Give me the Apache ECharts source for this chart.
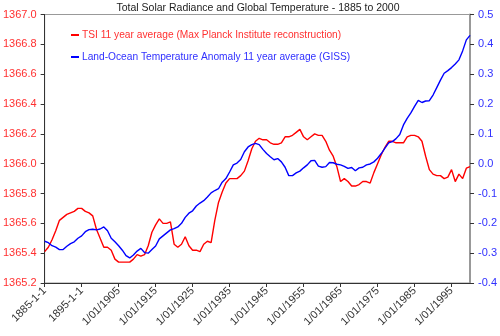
<!DOCTYPE html>
<html><head><meta charset="utf-8">
<script src="https://cdn.jsdelivr.net/npm/echarts@6/dist/echarts.min.js"></script>
<style>html,body{margin:0;padding:0;background:#fff}#c{width:500px;height:336px}</style>
</head><body><div id="c"></div>
<script>
const title = 'Total Solar Radiance and Global Temperature - 1885 to 2000';
const tsiName = 'TSI 11 year average (Max Planck Institute reconstruction)';
const tempName = 'Land-Ocean Temperature Anomaly 11 year average (GISS)';
const startYear = 1885, endYear = 2000;
const years = [];
for (let y = startYear; y <= endYear; y++) years.push(String(y));
const tickLabels = {'1885':'1885-1-1','1895':'1895-1-1','1905':'1/01/1905','1915':'1/01/1915','1925':'1/01/1925','1935':'1/01/1935','1945':'1/01/1945','1955':'1/01/1955','1965':'1/01/1965','1975':'1/01/1975','1985':'1/01/1985','1995':'1/01/1995'};
const tsi = [
1365.41,1365.44,1365.49,1365.55,1365.62,1365.64,1365.66,1365.67,1365.68,1365.70,
1365.70,1365.68,1365.67,1365.65,1365.56,1365.50,1365.44,1365.44,1365.42,1365.36,
1365.34,1365.34,1365.34,1365.34,1365.36,1365.39,1365.38,1365.39,1365.45,1365.54,
1365.59,1365.63,1365.60,1365.60,1365.61,1365.46,1365.44,1365.46,1365.51,1365.45,
1365.42,1365.42,1365.41,1365.46,1365.48,1365.47,1365.62,1365.74,1365.81,1365.87,
1365.90,1365.90,1365.90,1365.92,1365.95,1366.02,1366.10,1366.15,1366.17,1366.16,
1366.16,1366.14,1366.13,1366.13,1366.14,1366.18,1366.18,1366.19,1366.21,1366.23,
1366.18,1366.16,1366.18,1366.20,1366.19,1366.19,1366.15,1366.09,1366.05,1365.98,
1365.88,1365.90,1365.88,1365.85,1365.85,1365.86,1365.88,1365.88,1365.87,1365.94,
1366.00,1366.06,1366.11,1366.15,1366.15,1366.14,1366.14,1366.14,1366.18,1366.19,
1366.19,1366.18,1366.15,1366.05,1365.96,1365.93,1365.92,1365.92,1365.90,1365.91,
1365.96,1365.88,1365.93,1365.90,1365.97,1365.98];
const temp = [
-0.260,-0.265,-0.275,-0.280,-0.288,-0.288,-0.277,-0.268,-0.262,-0.250,
-0.242,-0.228,-0.221,-0.220,-0.222,-0.219,-0.212,-0.225,-0.250,-0.262,
-0.275,-0.290,-0.308,-0.316,-0.306,-0.293,-0.284,-0.298,-0.300,-0.288,
-0.276,-0.252,-0.242,-0.232,-0.222,-0.218,-0.212,-0.200,-0.180,-0.166,
-0.158,-0.142,-0.132,-0.124,-0.112,-0.098,-0.090,-0.084,-0.062,-0.050,
-0.028,-0.004,0.002,0.014,0.040,0.056,0.064,0.068,0.064,0.048,
0.034,0.023,0.013,0.017,0.006,-0.012,-0.040,-0.040,-0.031,-0.025,
-0.014,-0.004,0.010,0.011,-0.008,-0.012,-0.010,0.004,0.003,-0.002,
-0.004,-0.009,-0.016,-0.013,-0.024,-0.014,-0.012,-0.004,-0.001,0.006,
0.018,0.034,0.052,0.070,0.074,0.084,0.098,0.130,0.152,0.170,
0.192,0.212,0.205,0.210,0.211,0.230,0.255,0.280,0.303,0.312,
0.322,0.334,0.348,0.378,0.415,0.430];

const font = 'Liberation Sans, Arial, sans-serif';
const chart = echarts.init(document.getElementById('c'), null, {renderer:'canvas'});
chart.setOption({
  animation:false,
  textStyle:{fontFamily:font},
  title:{text:title,left:253,textAlign:'center',top:-2,textStyle:{fontSize:10.5,fontWeight:'normal',color:'#222',fontFamily:font}},
  legend:{orient:'vertical',left:66,top:25,itemGap:12,itemWidth:8,itemHeight:2,icon:'rect',
    textStyle:{fontSize:10.2,fontFamily:font,padding:[0,0,0,-2]},
    data:[{name:tsiName,textStyle:{color:'#ff3030'}},{name:tempName,textStyle:{color:'#3030ff'}}]},
  grid:{left:43.7,right:29.3,top:14.5,bottom:53,show:true,borderColor:'#999',borderWidth:1,containLabel:false},
  xAxis:{type:'category',data:years,boundaryGap:false,
    axisLine:{onZero:false,lineStyle:{color:'#333',width:1}},
    axisTick:{interval:(i)=>i%10===0,length:4,lineStyle:{color:'#333'}},
    axisLabel:{interval:(i)=>i%10===0,rotate:45,fontSize:11,color:'#333',margin:6,fontFamily:font,
      formatter:(v)=>tickLabels[v]||''}},
  yAxis:[
    {type:'value',min:1365.2,max:1367.0,interval:0.2,position:'left',
     axisLine:{show:true,onZero:false,lineStyle:{color:'#333'}},axisTick:{show:true,length:4,lineStyle:{color:'#333'}},
     splitLine:{show:false},
     axisLabel:{fontSize:11,color:'#ff3030',margin:8,fontFamily:font,formatter:(v)=>v.toFixed(1)}},
    {type:'value',min:-0.4,max:0.5,interval:0.1,position:'right',
     axisLine:{show:true,onZero:false,lineStyle:{color:'#999',width:2}},axisTick:{show:true,length:4,lineStyle:{color:'#333'}},
     splitLine:{show:false},
     axisLabel:{fontSize:11,color:'#3030ff',margin:8,fontFamily:font,formatter:(v)=>v.toFixed(1)}}
  ],
  series:[
    {name:tsiName,type:'line',yAxisIndex:0,data:tsi,showSymbol:false,lineStyle:{color:'#ff0000',width:1.4},itemStyle:{color:'#ff0000'}},
    {name:tempName,type:'line',yAxisIndex:1,data:temp,showSymbol:false,lineStyle:{color:'#0000ff',width:1.4},itemStyle:{color:'#0000ff'}}
  ]
});
</script></body></html>
